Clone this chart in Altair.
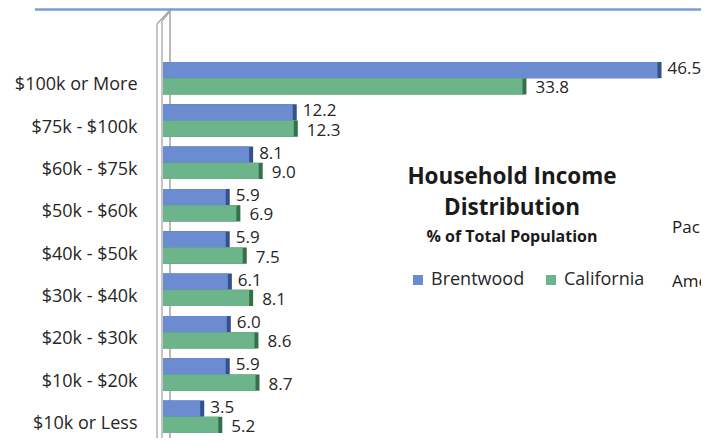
import altair as alt
import pandas as pd

categories = ["$100k or More", "$75k - $100k", "$60k - $75k", "$50k - $60k",
              "$40k - $50k", "$30k - $40k", "$20k - $30k", "$10k - $20k", "$10k or Less"]
series_names = ["Brentwood", "California"]
brentwood = [46.5, 12.2, 8.1, 5.9, 5.9, 6.1, 6.0, 5.9, 3.5]
california = [33.8, 12.3, 9.0, 6.9, 7.5, 8.1, 8.6, 8.7, 5.2]
title_lines = ["Household Income", "Distribution", "% of Total Population"]
cutoff_labels = ["Pac", "Ame"]

rows = []
for c, b, g in zip(categories, brentwood, california):
    rows.append({"cat": c, "series": series_names[0], "val": b})
    rows.append({"cat": c, "series": series_names[1], "val": g})
df = pd.DataFrame(rows)

FONT = "Open Sans"
front_colors = ["#6b8cd1", "#6cb58a"]
dark_colors = ["#34508f", "#357049"]

ox, oy = 163, 57  # plot origin in page px (for decoration placement)

def px(v):
    return alt.value(v - ox)

def py(v):
    return alt.value(v - oy)

ysc = alt.Scale(domain=categories, paddingInner=10/43, paddingOuter=5/43)
xsc = alt.Scale(domain=[0, 50.4], nice=False, zero=True)

base = alt.Chart(df)

yenc = alt.Y("cat:N", scale=ysc, sort=categories,
             axis=alt.Axis(title=None, ticks=False, domain=False, labelFont=FONT,
                           labelFontSize=18, labelColor="#262626", labelPadding=26,
                           labelOffset=7, labelLimit=300))
yoff = alt.YOffset("series:N", scale=alt.Scale(domain=series_names, paddingInner=0, paddingOuter=0))

dark = base.mark_bar(xOffset=4).encode(
    x=alt.X("val:Q", scale=xsc, axis=None),
    x2=alt.datum(0),
    y=yenc, yOffset=yoff,
    color=alt.Color("series:N", scale=alt.Scale(domain=series_names, range=dark_colors), legend=None),
)

front = base.mark_bar().encode(
    x=alt.X("val:Q", scale=xsc, axis=None),
    y=yenc, yOffset=yoff,
    color=alt.Color("series:N", scale=alt.Scale(domain=series_names, range=front_colors),
                    legend=alt.Legend(title=None, orient="none", legendX=246, legendY=214,
                                      direction="horizontal", symbolType="square",
                                      symbolSize=100, symbolStrokeWidth=0,
                                      labelFont=FONT, labelFontSize=18, labelColor="#262626",
                                      labelOffset=4, columnPadding=17)),
)

txt_b = base.transform_filter(alt.datum.series == series_names[0]).mark_text(
    align="left", baseline="middle", dx=10, dy=-1, font=FONT, fontSize=17, color="#262626"
).encode(x=alt.X("val:Q", scale=xsc), y=yenc, yOffset=yoff, text=alt.Text("val:Q", format=".1f"))

txt_g = base.transform_filter(alt.datum.series == series_names[1]).mark_text(
    align="left", baseline="middle", dx=13, dy=2, font=FONT, fontSize=17, color="#262626"
).encode(x=alt.X("val:Q", scale=xsc), y=yenc, yOffset=yoff, text=alt.Text("val:Q", format=".1f"))

one = pd.DataFrame({"k": [0]})
deco = alt.Chart(one)

def seg(x1, y1, x2, y2, color="#a6a6a6", w=1.3):
    return deco.mark_rule(color=color, strokeWidth=w).encode(
        x=px(x1), y=py(y1), x2=px(x2), y2=py(y2))

back_line = seg(170, 11, 170, 440, "#8c8c8c", 1.2)
wall = [seg(157, 24, 157, 440), seg(162, 21, 162, 440), seg(157, 24, 168, 12),
        seg(162, 21, 171, 10), seg(168, 12, 171, 10)]
top_line = deco.mark_rule(color="#7b9bd3", strokeWidth=2.5).encode(
    x=px(35), x2=px(705), y=py(9.5))

def label(text, x, y, size, weight="normal", align="center"):
    return deco.mark_text(text=text, font=FONT, fontSize=size, fontWeight=weight,
                          color="#1a1a1a", align=align, baseline="middle").encode(x=px(x), y=py(y))

titles = [label(title_lines[0], 512, 177, 22.5, "bold"),
          label(title_lines[1], 512, 208, 22.5, "bold"),
          label(title_lines[2], 512, 237, 16, "bold")]
cuts = [label(cutoff_labels[0], 672, 228, 17, align="left"),
        label(cutoff_labels[1], 672, 282, 17, align="left")]

chart = alt.layer(
    back_line, dark, front, txt_b, txt_g, *wall, top_line, *titles, *cuts
).resolve_scale(color="independent").properties(
    width=536, height=381,
    background="white",
    autosize=alt.AutoSizeParams(type="none"),
    padding={"left": 155, "top": 49, "right": 2, "bottom": 0},
).configure_view(strokeWidth=0)

chart.save("out.html", embed_options={"renderer": "svg", "actions": False})
